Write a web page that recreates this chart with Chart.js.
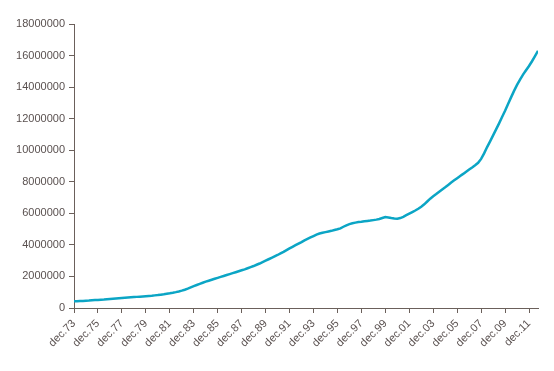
<!DOCTYPE html>
<html>
<head>
<meta charset="utf-8">
<script src="https://cdn.jsdelivr.net/npm/chart.js@4.4.1/dist/chart.umd.min.js"></script>
<style>
  html, body { margin: 0; padding: 0; background: #fff; }
  #wrap { width: 554px; height: 371px; }
</style>
</head>
<body>
<div id="wrap"><canvas id="chart_canvas" width="554" height="371"></canvas></div>
<script>
// quarterly values, dec.73 .. sep.12
var values = [
    420000, 430000, 440000, 450000, 460000, 470000, 490000, 500000, 510000, 530000,
    540000, 555000, 570000, 585000, 600000, 615000, 630000, 645000, 660000, 675000,
    690000, 705000, 720000, 735000, 750000, 765000, 780000, 800000, 820000, 845000,
    870000, 900000, 930000, 965000, 1005000, 1050000, 1100000, 1160000, 1230000, 1310000,
    1390000, 1460000, 1530000, 1600000, 1670000, 1730000, 1790000, 1850000, 1910000, 1970000,
    2030000, 2090000, 2150000, 2210000, 2270000, 2330000, 2390000, 2450000, 2520000, 2590000,
    2660000, 2740000, 2820000, 2910000, 3000000, 3090000, 3180000, 3270000, 3360000, 3460000,
    3560000, 3670000, 3780000, 3880000, 3980000, 4080000, 4180000, 4290000, 4380000, 4470000,
    4560000, 4650000, 4720000, 4770000, 4810000, 4850000, 4890000, 4940000, 4990000, 5050000,
    5150000, 5240000, 5320000, 5370000, 5410000, 5450000, 5470000, 5500000, 5520000, 5540000,
    5570000, 5600000, 5640000, 5700000, 5760000, 5740000, 5700000, 5670000, 5660000, 5700000,
    5780000, 5880000, 5980000, 6080000, 6180000, 6290000, 6420000, 6570000, 6750000, 6930000,
    7080000, 7220000, 7370000, 7510000, 7650000, 7800000, 7950000, 8090000, 8230000, 8370000,
    8500000, 8640000, 8780000, 8910000, 9050000, 9200000, 9450000, 9800000, 10200000, 10560000,
    10940000, 11320000, 11700000, 12100000, 12500000, 12930000, 13350000, 13760000, 14140000, 14480000,
    14790000, 15070000, 15340000, 15640000, 15970000, 16300000
];

var months = ["dec", "mar", "jun", "sep"];
var labels = [];
for (var i = 0; i < values.length; i++) {
    var yr = 73 + Math.ceil(i / 4);
    labels.push(months[i % 4] + "." + String(yr % 100).padStart(2, "0"));
}

// every 8th quarter gets a tick (dec.73, dec.75, ... dec.11)
var xTicks = [0, 8, 16, 24, 32, 40, 48, 56, 64, 72, 80, 88, 96, 104, 112, 120, 128, 136, 144, 152];
var yTicks = [0, 2000000, 4000000, 6000000, 8000000, 10000000, 12000000, 14000000, 16000000, 18000000];

var points = values.map(function (v, i) { return { x: i, y: v }; });

var axisColor = "#6b605b";
var textColor = "#5a5150";

var ctx = document.getElementById("chart_canvas").getContext("2d");
var chart = new Chart(ctx, {
    type: "line",
    data: {
        datasets: [
            {
                data: points,
                borderColor: "#0ba5c5",
                borderWidth: 2.5,
                pointRadius: 0,
                tension: 0,
                fill: false
            }
        ]
    },
    options: {
        responsive: false,
        animation: false,
        layout: {
            padding: { top: 24, right: 16, left: 0, bottom: 0 }
        },
        plugins: {
            legend: { display: false },
            tooltip: { enabled: false }
        },
        scales: {
            x: {
                type: "linear",
                min: 0,
                max: values.length - 1,
                afterBuildTicks: function (scale) {
                    scale.ticks = xTicks.map(function (v) { return { value: v }; });
                },
                afterFit: function (scale) { scale.height = 63; },
                border: { color: axisColor, width: 1 },
                grid: {
                    drawOnChartArea: false,
                    drawTicks: true,
                    tickLength: 5,
                    color: axisColor
                },
                ticks: {
                    autoSkip: false,
                    maxRotation: 45,
                    minRotation: 45,
                    color: textColor,
                    font: { family: "Liberation Sans, Arial", size: 11 },
                    padding: 4,
                    callback: function (v) { return labels[v]; }
                }
            },
            y: {
                min: 0,
                max: 18000000,
                afterFit: function (scale) { scale.width = 74; },
                afterBuildTicks: function (scale) {
                    scale.ticks = yTicks.map(function (v) { return { value: v }; });
                },
                border: { color: axisColor, width: 1 },
                grid: {
                    drawOnChartArea: false,
                    drawTicks: true,
                    tickLength: 5,
                    color: axisColor
                },
                ticks: {
                    color: textColor,
                    font: { family: "Liberation Sans, Arial", size: 11 },
                    padding: 4,
                    callback: function (v) { return String(v); }
                }
            }
        }
    }
});
</script>
</body>
</html>
